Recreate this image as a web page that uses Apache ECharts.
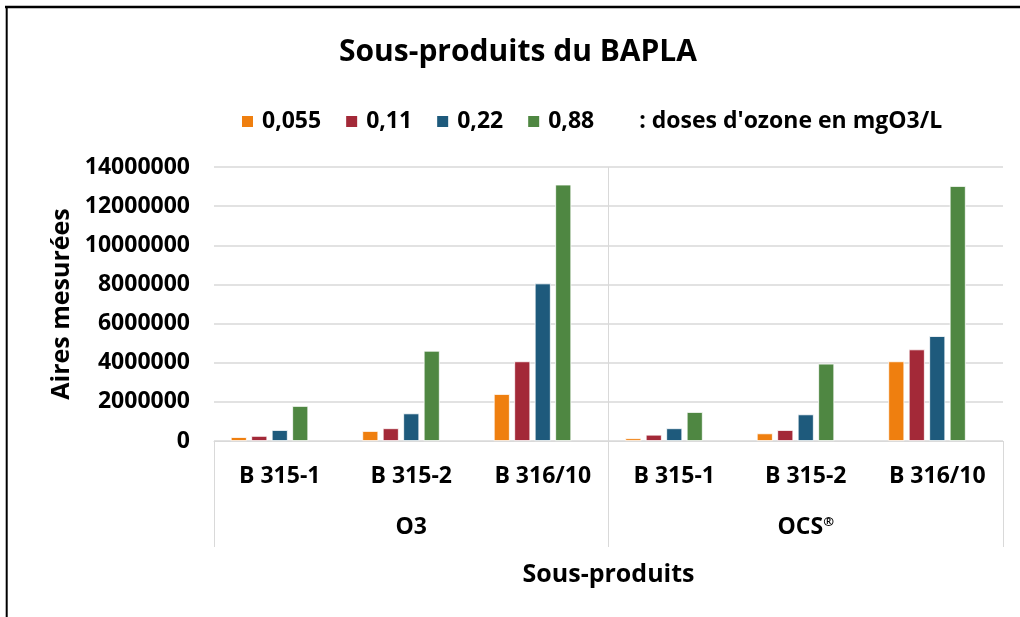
<!DOCTYPE html>
<html>
<head>
<meta charset="utf-8">
<script src="https://cdn.jsdelivr.net/npm/echarts@6/dist/echarts.min.js"></script>
<style>
  html, body { margin: 0; padding: 0; background: #fff; }
  #chart { width: 1020px; height: 617px; }
</style>
</head>
<body>
<div id="chart"></div>
<script>
// Sub-products (inner categories) within each treatment (outer groups)
const produits = ['B 315-1', 'B 315-2', 'B 316/10', 'B 315-1', 'B 315-2', 'B 316/10'];
const traitements = ['O3', 'OCS®'];

// Ozone doses in mgO3/L
const doses = ['0,055', '0,11', '0,22', '0,88'];
// Legend caption, carried by an empty series so that it sits in the legend row
const legende = ": doses d'ozone en mgO3/L";

// Measured peak areas for each dose (O3 group first, then OCS®)
const dose0055 = [200000, 510000, 2400000, 140000, 390000, 4070000];
const dose011  = [260000, 650000, 4070000, 320000, 560000, 4680000];
const dose022  = [560000, 1410000, 8050000, 650000, 1360000, 5360000];
const dose088  = [1790000, 4610000, 13100000, 1480000, 3950000, 13030000];
const sansValeur = [null, null, null, null, null, null];

const yTicks = { min: 0, max: 14000000, interval: 2000000 };

const couleurs = ['#EF7F0F', '#A32938', '#1E5A7C', '#4F8742', 'rgba(0,0,0,0)'];
const FONT = '"Open Sans", "Noto Sans", sans-serif';

const chart = echarts.init(document.getElementById('chart'));

const noms = doses.concat([legende]);
const valeurs = [dose0055, dose011, dose022, dose088, sansValeur];
const series = noms.map((d, i) => ({
  name: d,
  type: 'bar',
  xAxisIndex: 0,
  data: valeurs[i],
  barWidth: 16,
  barGap: '28%',
  itemStyle: { color: couleurs[i], borderColor: i < 4 ? '#ffffff' : 'rgba(0,0,0,0)', borderWidth: 0.8 }
}));

const labelStyle = { fontFamily: FONT, fontWeight: 'bold', fontSize: 23, color: '#000' };

chart.setOption({
  animation: false,
  backgroundColor: '#ffffff',
  color: couleurs,
  title: {
    text: 'Sous-produits du BAPLA',
    left: 334,
    top: 32,
    textStyle: { fontFamily: FONT, fontWeight: 'bold', fontSize: 30, color: '#000' }
  },
  legend: {
    data: noms,
    left: 240,
    top: 110,
    padding: 0,
    icon: 'rect',
    itemWidth: 13,
    itemHeight: 13,
    itemGap: 23,
    textStyle: Object.assign({ padding: [0, 0, 0, 3] }, labelStyle)
  },
  graphic: [
    // frame edges
    { type: 'line', shape: { x1: 5, y1: 7, x2: 1020, y2: 7 }, style: { stroke: '#000', lineWidth: 2.5 } },
    { type: 'line', shape: { x1: 6.7, y1: 6, x2: 6.7, y2: 617 }, style: { stroke: '#000', lineWidth: 2 } }
  ],
  grid: { left: 214, right: 17, top: 167, bottom: 176, containLabel: false },
  xAxis: [
    {
      type: 'category',
      data: produits,
      position: 'bottom',
      axisLine: { show: true, lineStyle: { color: '#d9d9d9', width: 1 } },
      axisTick: { show: false },
      axisLabel: Object.assign({ margin: 24 }, labelStyle),
      splitLine: { show: false }
    },
    {
      type: 'category',
      data: traitements,
      position: 'bottom',
      axisLine: { show: false },
      axisTick: { show: true, length: 106, lineStyle: { color: '#d9d9d9', width: 1 } },
      axisLabel: Object.assign({
        margin: 75,
        formatter: v => v.endsWith('®') ? '{n|' + v.slice(0, -1) + '}{s|®}' : '{n|' + v + '}',
        rich: {
          n: labelStyle,
          s: { fontFamily: FONT, fontWeight: 'bold', fontSize: 13, color: '#000', verticalAlign: 'top', padding: [0, 0, 10, 0] }
        }
      }, labelStyle),
      splitLine: { show: true, showMinLine: false, showMaxLine: false, lineStyle: { color: '#d9d9d9', width: 1 } },
      name: 'Sous-produits',
      nameLocation: 'middle',
      nameGap: 121,
      nameTextStyle: { fontFamily: FONT, fontWeight: 'bold', fontSize: 25, color: '#000' }
    }
  ],
  yAxis: {
    type: 'value',
    min: yTicks.min,
    max: yTicks.max,
    interval: yTicks.interval,
    axisLine: { show: false },
    axisTick: { show: false },
    axisLabel: Object.assign({ margin: 24, formatter: v => String(v) }, labelStyle),
    splitLine: { lineStyle: { color: '#d9d9d9', width: 1.5 } },
    name: 'Aires mesurées',
    nameLocation: 'middle',
    nameGap: 140,
    nameTextStyle: { fontFamily: FONT, fontWeight: 'bold', fontSize: 25, color: '#000' }
  },
  series: series
});
</script>
</body>
</html>
